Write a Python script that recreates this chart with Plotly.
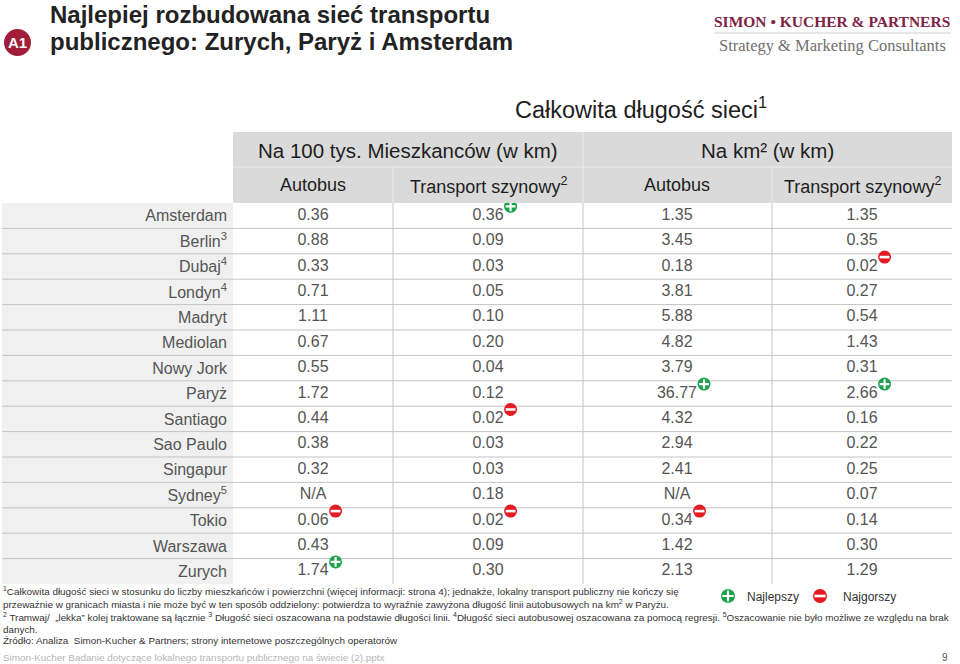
import plotly.graph_objects as go

# ---------------- data ----------------
CITIES = ["Amsterdam", "Berlin", "Dubaj", "Londyn", "Madryt", "Mediolan", "Nowy Jork",
          "Paryż", "Santiago", "Sao Paulo", "Singapur", "Sydney", "Tokio", "Warszawa", "Zurych"]
CITY_NOTES = {"Berlin": "3", "Dubaj": "4", "Londyn": "4", "Sydney": "5"}

BUS_PER_100K = [0.36, 0.88, 0.33, 0.71, 1.11, 0.67, 0.55, 1.72, 0.44, 0.38, 0.32, None, 0.06, 0.43, 1.74]
RAIL_PER_100K = [0.36, 0.09, 0.03, 0.05, 0.10, 0.20, 0.04, 0.12, 0.02, 0.03, 0.03, 0.18, 0.02, 0.09, 0.30]
BUS_PER_KM2 = [1.35, 3.45, 0.18, 3.81, 5.88, 4.82, 3.79, 36.77, 4.32, 2.94, 2.41, None, 0.34, 1.42, 2.13]
RAIL_PER_KM2 = [1.35, 0.35, 0.02, 0.27, 0.54, 1.43, 0.31, 2.66, 0.16, 0.22, 0.25, 0.07, 0.14, 0.30, 1.29]
COLUMNS = [BUS_PER_100K, RAIL_PER_100K, BUS_PER_KM2, RAIL_PER_KM2]

GROUP_HEADERS = ["Na 100 tys. Mieszkanców (w km)", "Na km² (w km)"]
SUB_HEADERS = ["Autobus", "Transport szynowy<sup>2</sup>", "Autobus", "Transport szynowy<sup>2</sup>"]
TABLE_TITLE = "Całkowita długość sieci<sup>1</sup>"

BEST = [("Zurych", 0), ("Amsterdam", 1), ("Paryż", 2), ("Paryż", 3)]
WORST = [("Tokio", 0), ("Santiago", 1), ("Tokio", 1), ("Tokio", 2), ("Dubaj", 3)]

FOOTNOTES = [
    "<sup>1</sup>Całkowita długość sieci w stosunku do liczby mieszkańców i powierzchni (więcej informacji: strona 4); jednakże, lokalny transport publiczny nie kończy się",
    "przeważnie w granicach miasta i nie może być w ten sposób oddzielony: potwierdza to wyraźnie zawyżona długość linii autobusowych na km<sup>2</sup> w Paryżu.",
    "<sup>2</sup> Tramwaj/  „lekka” kolej traktowane są łącznie <sup>3</sup> Długość sieci oszacowana na podstawie długości linii. <sup>4</sup>Długość sieci autobusowej oszacowana za pomocą regresji. <sup>5</sup>Oszacowanie nie było możliwe ze względu na brak",
    "danych.",
    "Źródło: Analiza  Simon-Kucher & Partners; strony internetowe poszczególnych operatorów",
]
FOOTER = "Simon-Kucher Badanie dotyczące lokalnego transportu publicznego na świecie (2).pptx"
PAGE_NO = "9"

# ---------------- layout constants (pixels) ----------------
W, H = 960, 664
FONT = "Liberation Sans, Arial, sans-serif"
SERIF = "Liberation Serif, Times New Roman, serif"
COL_X = [313, 488, 677, 862]
COL_EDGES = [233, 393, 583, 772, 952]
LEFT_EDGE = 2
HEAD_TOP, HEAD_MID, BODY_TOP, BODY_BOT = 132, 167, 203, 584
GREEN, RED = "#1ba34b", "#e31b23"
TXT = "#555555"
HEAD_TXT = "#1e1e1e"


def fmt(v):
    return "N/A" if v is None else f"{v:.2f}"


def text_w(s, size=16):
    w = 0
    for ch in s:
        w += 0.278 if ch == "." else 0.556
    return w * size


fig = go.Figure()

n = len(CITIES)
idx = list(range(n))

# cell texts
for c, col in enumerate(COLUMNS):
    fig.add_trace(go.Scatter(
        x=[COL_X[c]] * n, y=idx, mode="text", text=[fmt(v) for v in col],
        textfont=dict(family=FONT, size=16, color=TXT), hoverinfo="skip",
        showlegend=False, xaxis="x", yaxis="y"))


def marker_traces(cells, color, symbol, lw):
    xs, ys = [], []
    for city, c in cells:
        i = CITIES.index(city)
        s = fmt(COLUMNS[c][i])
        xs.append(COL_X[c] + text_w(s) / 2 + 7)
        ys.append(i - 0.37)
    fig.add_trace(go.Scatter(x=xs, y=ys, mode="markers",
                             marker=dict(symbol="circle", size=13, color=color, line=dict(width=0)),
                             hoverinfo="skip", showlegend=False))
    fig.add_trace(go.Scatter(x=xs, y=ys, mode="markers",
                             marker=dict(symbol=symbol, size=7, color="white",
                                         line=dict(width=lw, color="white")),
                             hoverinfo="skip", showlegend=False))


marker_traces(BEST, GREEN, "cross-thin", 2.2)
marker_traces(WORST, RED, "line-ew", 2.6)

# legend markers (pixel axis y2)
for px, color, sym, lw in [(728, GREEN, "cross-thin", 2.2), (820, RED, "line-ew", 2.6)]:
    fig.add_trace(go.Scatter(x=[px], y=[596], mode="markers", xaxis="x", yaxis="y2",
                             marker=dict(symbol="circle", size=14, color=color, line=dict(width=0)),
                             hoverinfo="skip", showlegend=False))
    fig.add_trace(go.Scatter(x=[px], y=[596], mode="markers", xaxis="x", yaxis="y2",
                             marker=dict(symbol=sym, size=8, color="white", line=dict(width=lw, color="white")),
                             hoverinfo="skip", showlegend=False))

shapes = []
# city column background
shapes.append(dict(type="rect", xref="x", yref="y", x0=LEFT_EDGE, x1=COL_EDGES[0], y0=-0.5, y1=n - 0.5,
                   fillcolor="#f0f0f0", line=dict(width=0), layer="below"))
# header background
shapes.append(dict(type="rect", xref="x", yref="y2", x0=COL_EDGES[0], x1=COL_EDGES[-1], y0=HEAD_TOP, y1=BODY_TOP,
                   fillcolor="#dadada", line=dict(width=0), layer="below"))
shapes.append(dict(type="line", xref="x", yref="y2", x0=COL_EDGES[0], x1=COL_EDGES[-1], y0=HEAD_MID, y1=HEAD_MID,
                   line=dict(color="#ebebeb", width=1), layer="below"))
shapes.append(dict(type="line", xref="x", yref="y2", x0=COL_EDGES[2], x1=COL_EDGES[2], y0=HEAD_TOP, y1=HEAD_MID,
                   line=dict(color="#ebebeb", width=1), layer="below"))
for e in [COL_EDGES[1], COL_EDGES[2], COL_EDGES[3]]:
    shapes.append(dict(type="line", xref="x", yref="y2", x0=e, x1=e, y0=HEAD_MID, y1=BODY_TOP,
                       line=dict(color="#ebebeb", width=1), layer="below"))
# row separators
for i in range(n - 1):
    shapes.append(dict(type="line", xref="x", yref="y", x0=LEFT_EDGE, x1=COL_EDGES[-1], y0=i + 0.5, y1=i + 0.5,
                       line=dict(color="#c4c4c4", width=1), layer="below"))
# column separators in body
for e in COL_EDGES[1:4]:
    shapes.append(dict(type="line", xref="x", yref="y", x0=e, x1=e, y0=-0.5, y1=n - 0.5,
                       line=dict(color="#c4c4c4", width=1), layer="below"))
# logo rule
shapes.append(dict(type="line", xref="x", yref="y2", x0=714, x1=951, y0=33, y1=33,
                   line=dict(color="#cfcfcf", width=1)))
# A1 circle
shapes.append(dict(type="circle", xref="x", yref="y2", x0=4, x1=31, y0=29, y1=56,
                   fillcolor="#a11d39", line=dict(width=0)))

ann = []


def A(x, y, text, size, color=HEAD_TXT, family=FONT, xanchor="center", bold=False):
    t = f"<b>{text}</b>" if bold else text
    ann.append(dict(x=x, y=y, xref="x", yref="y2", text=t, showarrow=False, xanchor=xanchor, yanchor="middle",
                    font=dict(family=family, size=size, color=color)))


A(48, 14, "Najlepiej rozbudowana sieć transportu", 24, "#222222", xanchor="left", bold=True)
A(48, 41, "publicznego: Zurych, Paryż i Amsterdam", 24, "#222222", xanchor="left", bold=True)
A(17.5, 42.5, "A1", 15, "white", bold=True)
A(832, 21, "SIMON • KUCHER & PARTNERS", 15.5, "#7e2246", SERIF, bold=True)
A(832, 45, "Strategy & Marketing Consultants", 16.5, "#6f6f6f", SERIF)
A(641, 108, TABLE_TITLE, 23.5, HEAD_TXT)
A((COL_EDGES[0] + COL_EDGES[2]) / 2, 150, GROUP_HEADERS[0], 20.5, HEAD_TXT)
A((COL_EDGES[2] + COL_EDGES[4]) / 2, 150, GROUP_HEADERS[1], 20.5, HEAD_TXT)
for c, t in enumerate(SUB_HEADERS):
    A(COL_X[c], 185, t, 18, HEAD_TXT)

fy = [591, 604, 617, 629, 640]
for y, t in zip(fy, FOOTNOTES):
    A(1, y, t, 9.9, "#333333", xanchor="left")
A(745, 597, "Najlepszy", 12, "#333333", xanchor="left")
A(841, 597, "Najgorszy", 12, "#333333", xanchor="left")
A(1, 657, FOOTER, 9.9, "#b5b5b5", xanchor="left")
A(950, 657, PAGE_NO, 10, "#555555", xanchor="right")

ticktext = [c + (f"<sup>{CITY_NOTES[c]}</sup>" if c in CITY_NOTES else "") for c in CITIES]

fig.update_layout(
    width=W, height=H, margin=dict(l=0, r=0, t=0, b=0),
    paper_bgcolor="white", plot_bgcolor="rgba(0,0,0,0)",
    xaxis=dict(range=[0, W], visible=False, fixedrange=True, domain=[0, 1]),
    yaxis=dict(domain=[1 - BODY_BOT / H, 1 - BODY_TOP / H], range=[n - 0.5, -0.5],
               tickvals=idx, ticktext=ticktext, anchor="free", position=COL_EDGES[0] / W,
               showgrid=False, zeroline=False, showline=False, ticks="", ticklabelstandoff=6,
               tickfont=dict(family=FONT, size=16, color=TXT), fixedrange=True),
    yaxis2=dict(domain=[0, 1], range=[H, 0], visible=False, anchor="x", fixedrange=True),
    shapes=shapes, annotations=ann, showlegend=False,
)

fig.write_html("out.html", config={"displayModeBar": False},
               post_script="document.body.style.margin='0';document.body.style.padding='0';")
